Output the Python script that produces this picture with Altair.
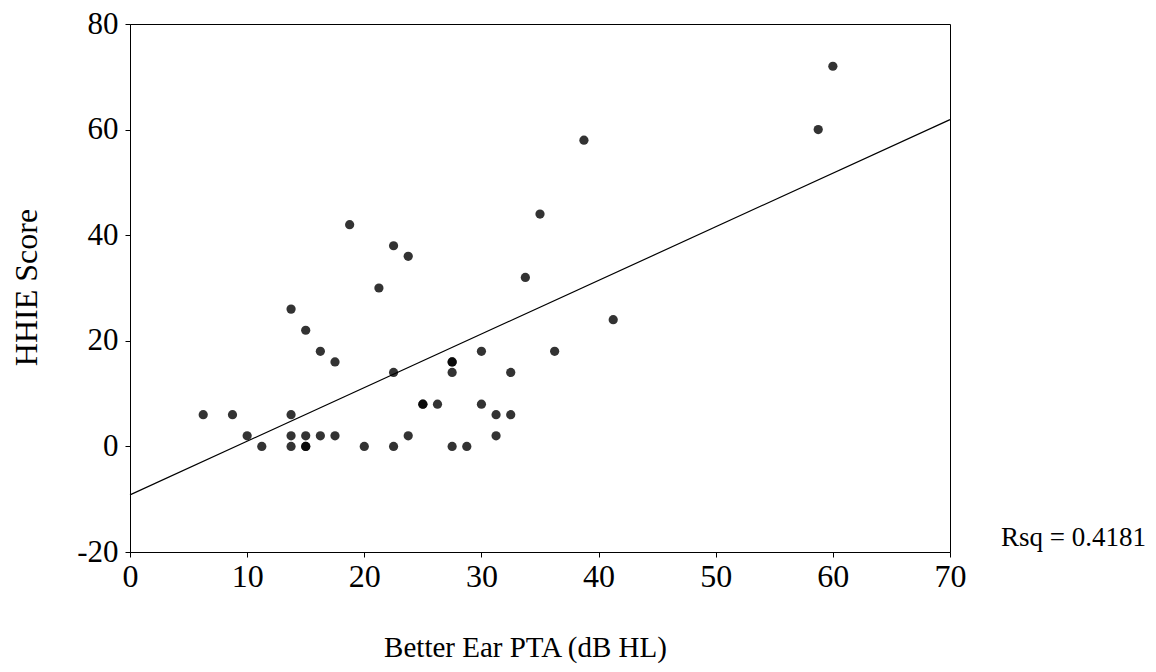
import altair as alt
import pandas as pd

# Better ear PTA (dB HL)
pta = [6.25, 8.75, 10.0, 11.25, 13.75, 13.75, 13.75, 13.75, 15.0, 15.0, 15.0, 15.0,
       16.25, 16.25, 17.5, 17.5, 18.75, 20.0, 21.25, 22.5, 22.5, 22.5, 23.75, 23.75,
       25.0, 25.0, 26.25, 27.5, 27.5, 27.5, 27.5, 28.75, 30.0, 30.0, 31.25, 31.25,
       32.5, 32.5, 33.75, 35.0, 36.25, 38.75, 41.25, 58.75, 60.0]
# HHIE score
hhie = [6, 6, 2, 0, 26, 6, 2, 0, 22, 2, 0, 0,
        18, 2, 16, 2, 42, 0, 30, 38, 14, 0, 36, 2,
        8, 8, 8, 16, 16, 14, 0, 0, 18, 8, 6, 2,
        14, 6, 32, 44, 18, 58, 24, 60, 72]

x_ticks = [0, 10, 20, 30, 40, 50, 60, 70]
y_ticks = [-20, 0, 20, 40, 60, 80]
rsq_label = ["Rsq = 0.4181"]

df = pd.DataFrame({"pta": pta, "hhie": hhie})
FONT = "Liberation Serif"

xs = alt.Scale(domain=[0, 70], nice=False, zero=False)
ys = alt.Scale(domain=[-20, 80], nice=False, zero=False)

x_axis = alt.Axis(values=x_ticks, grid=False, title="Better Ear PTA (dB HL)",
                  labelFont=FONT, labelFontSize=32, labelColor="black", labelPadding=4,
                  labelFlush=False, labelExpr="toString(datum.value)",
                  titleFont=FONT, titleFontSize=29, titleFontWeight="normal", titleColor="black",
                  titleX=395, titleY=104, titleBaseline="alphabetic", titleAnchor="middle",
                  domainColor="black", tickColor="black", tickSize=5)
y_axis = alt.Axis(values=y_ticks, grid=False, title="HHIE Score",
                  labelFont=FONT, labelFontSize=31, labelColor="black", labelPadding=7,
                  labelFlush=False, labelExpr="toString(datum.value)",
                  titleFont=FONT, titleFontSize=32, titleFontWeight="normal", titleColor="black",
                  titleX=-104, titleY=263, titleAngle=-90, titleBaseline="middle",
                  titleAnchor="middle",
                  domainColor="black", tickColor="black", tickSize=5)

points = alt.Chart(df).mark_circle(size=85, color="black", opacity=0.8).encode(
    x=alt.X("pta:Q", scale=xs, axis=x_axis),
    y=alt.Y("hhie:Q", scale=ys, axis=y_axis),
)

fit = alt.Chart(df).transform_regression(
    "pta", "hhie", extent=[0, 70]
).mark_line(color="black", strokeWidth=1.2).encode(
    x=alt.X("pta:Q", scale=xs),
    y=alt.Y("hhie:Q", scale=ys),
)

rsq = alt.Chart(pd.DataFrame({"t": rsq_label})).mark_text(
    font=FONT, fontSize=27, align="left", baseline="alphabetic", color="black", clip=False
).encode(text="t:N", x=alt.value(871), y=alt.value(522))

chart = alt.layer(points, fit, rsq).properties(
    width=820, height=528,
    autosize=alt.AutoSizeParams(type="none"),
    padding={"left": 122, "top": 16, "right": 198, "bottom": 112},
).configure_view(stroke="black", strokeWidth=1)

chart.save("out.html", embed_options={"renderer": "svg", "actions": False})
